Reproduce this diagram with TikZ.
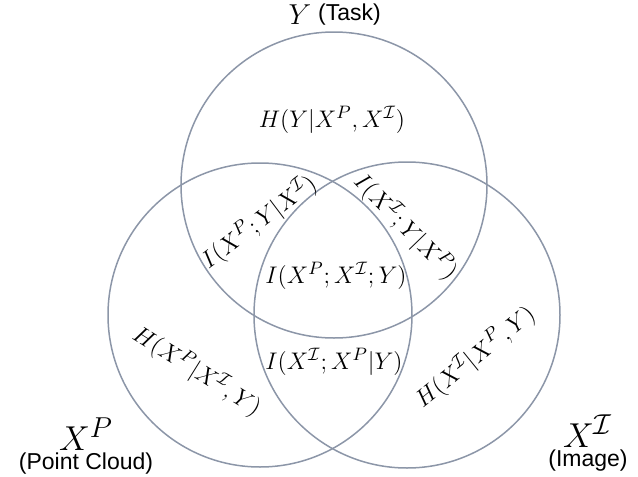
\documentclass[tikz,border=0pt]{standalone}
\usepackage{amsmath,amssymb}
\usepackage{fontspec}
\setsansfont{Liberation Sans}
\usepackage{xcolor}
\usetikzlibrary{positioning}
\definecolor{ringgray}{RGB}{140,150,168}

\begin{document}
\begin{tikzpicture}[x=0.5pt, y=-0.5pt,
  ring/.style={circle, draw=ringgray, line width=0.75pt, inner sep=0pt},
  info/.style={inner sep=0pt, font=\fontsize{13}{16}\selectfont},
  varname/.style={inner sep=0pt, font=\fontsize{19}{22}\selectfont},
  tag/.style={inner sep=0pt, font=\sffamily\fontsize{11.5}{13}\selectfont}]
  \useasboundingbox (0,0) rectangle (638,477);
  % ---- the three sets
  \node[ring, minimum size=153pt] (setY) at (334,185) {};
  \node[ring, minimum size=152pt] (setP) at (260,315) {};
  \node[ring, minimum size=153pt] (setI) at (407,315) {};
  % ---- set names
  \node[info, font=\fontsize{14}{17}\selectfont] (nameY) at (300,15) {$Y$};
  \node[tag, right=3pt of nameY] (tagY) {(Task)};
  \node[varname] (nameP) at (86,434) {$X^P$};
  \node[tag, below=1pt of nameP] (tagP) {(Point Cloud)};
  \node[varname] (nameI) at (588,431) {$X^{\mathcal{I}}$};
  \node[tag, below=1pt of nameI] (tagI) {(Image)};
  % ---- regions
  \node[info] (hY) at (332,120) {$H(Y|X^P,X^{\mathcal{I}})$};
  \node[info, rotate=37] (iPY) at (259,222) {$I(X^P;Y|X^{\mathcal{I}})$};
  \node[info, rotate=-46] (iIY) at (406,227) {$I(X^{\mathcal{I}};Y|X^P)$};
  \node[info] (iPIY) at (336,276) {$I(X^P;X^{\mathcal{I}};Y)$};
  \node[info] (iIP) at (334,362) {$I(X^{\mathcal{I}};X^P|Y)$};
  \node[info, rotate=-32] (hP) at (197,371) {$H(X^P|X^{\mathcal{I}},Y)$};
  \node[info, rotate=39] (hI) at (475,357) {$H(X^{\mathcal{I}}|X^P,Y)$};
\end{tikzpicture}
\end{document}
